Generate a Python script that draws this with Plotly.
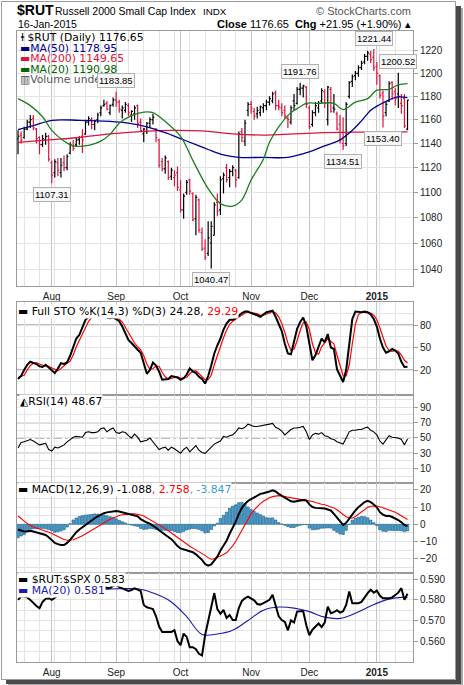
import math
import pandas as pd
import plotly.graph_objects as go

# ---------------- data ----------------
HOLIDAYS = ["2014-09-01", "2014-11-27", "2014-12-25", "2015-01-01"]
dates = [d for d in pd.bdate_range("2014-07-17", "2015-01-16")
         if d.strftime("%Y-%m-%d") not in HOLIDAYS]

opens = [1144, 1147, 1145, 1152, 1158, 1161, 1152, 1145, 1139, 1143, 1146,
         1124, 1116, 1124, 1116, 1124, 1120, 1132, 1138, 1139, 1143, 1146, 1148, 1158, 1160, 1156, 1160, 1166, 1172, 1174, 1166, 1173,
         1177, 1175, 1168, 1168, 1172, 1164, 1165, 1172, 1158, 1148, 1150, 1157, 1160, 1152, 1143, 1125, 1119, 1125, 1113, 1112, 1116,
         1102, 1086, 1100, 1110, 1099, 1079, 1094, 1068, 1056, 1052, 1060, 1066, 1092, 1086, 1111, 1120, 1112, 1117, 1118, 1112, 1150, 1142, 1168,
         1173, 1167, 1165, 1166, 1170, 1172, 1175, 1176, 1183, 1172, 1170, 1168, 1161, 1158, 1176, 1174, 1186, 1187, 1188,
         1170, 1156, 1166, 1170, 1176, 1184, 1160, 1186, 1170, 1165, 1156, 1140, 1140, 1180, 1193, 1198, 1200, 1205, 1210, 1215, 1217, 1214,
         1206, 1198, 1183, 1166, 1176, 1192, 1184, 1182, 1174, 1178, 1152]
highs = [1151, 1150, 1154, 1160, 1164, 1164, 1153, 1146, 1147, 1149, 1147,
         1126, 1127, 1128, 1128, 1130, 1131, 1141, 1143, 1145, 1146, 1152, 1160, 1163, 1162, 1160, 1166, 1172, 1177, 1176, 1173, 1179,
         1183.85, 1177, 1172, 1175, 1174, 1168, 1172, 1173, 1161, 1153, 1158, 1162, 1165, 1153, 1144, 1128, 1130, 1126, 1120, 1118, 1121,
         1110, 1099, 1110, 1111, 1100, 1098, 1095, 1072, 1063, 1077, 1077, 1092, 1099, 1113, 1116, 1123, 1119, 1122, 1119, 1150, 1153, 1160, 1175,
         1176, 1170, 1171, 1172, 1174, 1177, 1180, 1184, 1185, 1177, 1174, 1172, 1163, 1172, 1182, 1188, 1191.76, 1190, 1189,
         1172, 1168, 1175, 1176, 1187, 1186, 1189, 1188, 1182, 1167, 1164, 1162, 1175, 1193, 1199, 1202, 1207, 1211, 1217, 1220, 1220, 1221.44,
         1210, 1199, 1185, 1176, 1193, 1193, 1187, 1200.52, 1182, 1182, 1177]
lows = [1131, 1140, 1144, 1151, 1153, 1151, 1140, 1131, 1137, 1139, 1125,
        1107.31, 1112, 1113, 1112, 1117, 1118, 1131, 1134, 1137, 1139, 1132, 1147, 1155, 1152, 1151, 1157, 1163, 1171, 1168, 1164, 1171,
        1171, 1166, 1161, 1166, 1163, 1158, 1160, 1153, 1150, 1141, 1148, 1153, 1156, 1141, 1120, 1117, 1115, 1110, 1110, 1105, 1101,
        1084, 1079, 1098, 1098, 1077, 1066, 1068, 1054, 1047, 1050, 1040.47, 1066, 1081, 1082, 1099, 1108, 1104, 1113, 1104, 1111, 1141, 1138, 1163,
        1165, 1160, 1161, 1163, 1166, 1168, 1172, 1174, 1168, 1168, 1163, 1161, 1153, 1156, 1168, 1173, 1181, 1179, 1170,
        1152, 1154, 1163, 1166, 1174, 1170, 1155, 1166, 1166, 1151, 1140, 1134.51, 1138, 1178, 1188, 1194, 1197, 1203, 1208, 1211, 1209, 1202,
        1190, 1178, 1153.40, 1163, 1175, 1177, 1172, 1170, 1165, 1153, 1151]
closes = [1146, 1143, 1152, 1158, 1160, 1153, 1144, 1139, 1144, 1146, 1127,
          1114, 1125, 1118, 1122, 1120, 1129, 1139, 1136, 1143, 1145, 1143, 1158, 1161, 1156, 1159, 1164, 1170, 1173, 1169, 1172, 1177,
          1175, 1169, 1170, 1173, 1166, 1167, 1170, 1157, 1151, 1152, 1157, 1160, 1162, 1145, 1122, 1119, 1128, 1112, 1118, 1114, 1104,
          1086, 1097, 1108, 1101, 1078, 1096, 1070, 1055, 1049, 1064, 1073, 1090, 1085, 1110, 1114, 1110, 1117, 1120, 1110, 1148, 1145, 1157, 1173,
          1170, 1163, 1168, 1171, 1172, 1175, 1178, 1182, 1172, 1171, 1166, 1163, 1160, 1170, 1172, 1186, 1187, 1189, 1173,
          1154, 1166, 1172, 1174, 1185, 1174, 1188, 1167, 1169, 1152, 1143, 1138, 1173, 1192, 1197, 1200, 1205, 1209, 1215, 1218, 1212, 1204.7,
          1200, 1181, 1163, 1173, 1191, 1182, 1178, 1180, 1172, 1154.7, 1176.65]

ma50_dates = ["2014-07-17", "2014-07-24", "2014-08-01", "2014-08-14", "2014-08-28", "2014-09-08", "2014-09-16",
              "2014-09-24", "2014-10-01", "2014-10-08", "2014-10-14", "2014-10-21", "2014-10-28", "2014-11-07",
              "2014-11-19", "2014-12-01", "2014-12-08", "2014-12-15", "2014-12-19", "2014-12-24", "2014-12-30",
              "2015-01-05", "2015-01-08", "2015-01-13", "2015-01-16"]
ma50 = [1151.6, 1155, 1159.5, 1159.5, 1158.5, 1157, 1154, 1149, 1144, 1139, 1135, 1130.5, 1128.5, 1128.5,
        1128.5, 1133, 1138, 1143, 1151, 1159, 1168, 1173, 1177, 1179.5, 1178.95]

ma200_dates = ["2014-07-17", "2014-07-31", "2014-08-14", "2014-08-28", "2014-09-12", "2014-09-26", "2014-10-10",
               "2014-10-24", "2014-11-07", "2014-11-21", "2014-12-08", "2014-12-22", "2015-01-07", "2015-01-16"]
ma200 = [1141, 1143, 1145, 1148, 1150, 1151, 1150.5, 1148, 1147, 1148, 1149, 1149.5, 1149.5, 1149.65]

ma20_dates = ["2014-07-17", "2014-07-23", "2014-07-29", "2014-08-01", "2014-08-07", "2014-08-12", "2014-08-19",
              "2014-08-25", "2014-08-28", "2014-09-03", "2014-09-09", "2014-09-15", "2014-09-18", "2014-09-24",
              "2014-10-01", "2014-10-07", "2014-10-14", "2014-10-20", "2014-10-24", "2014-10-29", "2014-11-03",
              "2014-11-07", "2014-11-11", "2014-11-14", "2014-11-20", "2014-11-25", "2014-11-28", "2014-12-04",
              "2014-12-11", "2014-12-16", "2014-12-22", "2014-12-29", "2015-01-02", "2015-01-08", "2015-01-13",
              "2015-01-16"]
ma20 = [1178, 1172, 1162.5, 1151, 1142, 1138, 1138.5, 1142, 1147.6, 1157, 1163.5, 1166.5, 1166, 1158.5,
        1146, 1126, 1103, 1091, 1089, 1094, 1110, 1127, 1141, 1154, 1166, 1171, 1174, 1174,
        1174, 1168.5, 1175, 1178, 1185.3, 1186, 1190, 1190.98]

sto_k = [8, 12, 20, 27, 31, 30, 28, 25, 24, 27, 23,
         20, 16, 22, 29, 28, 30, 39, 52, 62, 67, 76, 87, 91, 93, 93, 92, 92, 95, 90, 89, 90,
         88, 85, 78, 69, 60, 56, 51, 47, 43, 27, 15, 20, 30, 26, 18, 7, 8, 8, 12, 11, 10,
         7, 9, 14, 22, 18, 16, 11, 8, 2, 12, 26, 42, 53, 62, 74, 82, 87, 87, 89, 93, 96, 98, 98,
         96, 95, 93, 91, 94, 97, 98, 99, 91, 82, 72, 55, 42, 41, 60, 75, 84, 90, 78,
         55, 33, 40, 50, 62, 57, 68, 50, 48, 21, 12, 4, 20, 58, 88, 98, 97, 97, 98, 97, 94, 88,
         78, 62, 50, 43, 45, 48, 46, 42, 31, 24, 24.28]
sto_d = [10, 11, 13, 20, 26, 29, 30, 28, 26, 25, 25,
         23, 20, 19, 22, 26, 29, 32, 40, 51, 60, 68, 77, 85, 90, 92, 93, 92, 93, 92, 91, 90,
         89, 88, 84, 77, 69, 62, 56, 51, 47, 39, 28, 21, 22, 25, 25, 17, 11, 8, 9, 10, 11,
         9, 9, 10, 15, 18, 19, 15, 12, 7, 7, 13, 27, 40, 52, 63, 73, 81, 85, 88, 90, 93, 96, 97,
         97, 96, 95, 93, 93, 94, 96, 98, 96, 91, 82, 70, 56, 46, 48, 59, 73, 83, 84,
         74, 55, 43, 41, 51, 56, 62, 58, 55, 40, 27, 12, 12, 27, 55, 81, 94, 97, 97, 97, 96, 93,
         87, 76, 63, 52, 46, 45, 46, 45, 40, 33, 29.29]

rsi = [37, 44, 45, 47, 48, 46, 44, 41, 42, 43, 35,
       33, 38, 37, 39, 41, 45, 48, 51, 52, 51, 51, 57, 58, 57, 57, 58, 62, 63, 58, 61, 63,
       57, 56, 58, 57, 53, 50, 55, 51, 45, 46, 47, 50, 45, 41, 35, 37, 38, 34, 38, 36, 33,
       30, 35, 38, 32, 36, 40, 34, 31, 30, 34, 38, 42, 44, 46, 52, 51, 53, 54, 58, 63, 62, 64, 68,
       66, 65, 65, 66, 67, 67, 68, 69, 64, 62, 59, 54, 58, 61, 63, 63, 64, 65, 58,
       48, 54, 56, 55, 57, 53, 52, 49, 48, 45, 43, 42, 50, 58, 60, 60, 61, 61, 63, 64, 60, 58,
       54, 46, 42, 47, 53, 51, 50, 50, 48, 41, 48.67]

macd = [-3.0, -3.8, -4.2, -4.0, -3.7, -4.2, -4.8, -5.2, -5.6, -6.2, -7.5,
        -9.0, -10.8, -11.5, -12.0, -12.0, -10.8, -9.0, -6.5, -4.6, -3.0, -1.6, -0.3, 1.0, 2.2, 3.5, 4.6, 5.6, 6.4, 6.9, 7.3, 7.6,
        7.7, 7.4, 7.0, 6.6, 6.0, 5.5, 5.1, 4.6, 3.0, 1.8, 1.0, 0.4, -0.6, -2.0, -3.5, -4.8, -6.0, -7.3, -8.6, -10.5, -12.6,
        -14.0, -14.5, -14.8, -15.5, -16.2, -17.4, -18.8, -20.6, -23.0, -24.0, -23.2, -21.0, -18.7, -15.2, -12.3, -9.5, -5.5,
        -2.0, 1.5, 6.0, 9.5, 11.8, 13.5,
        14.5, 15.7, 16.8, 17.6, 18.0, 18.3, 19.0, 19.7, 19.0, 17.6, 16.6, 15.4, 14.2, 13.3, 13.0, 13.5, 13.8, 14.0, 13.8,
        11.5, 10.0, 9.5, 9.2, 9.3, 9.1, 8.7, 8.0, 6.0, 3.8, 1.4, -0.4, 0.9, 3.5, 6.0, 8.0, 9.9, 11.5, 12.9, 13.6, 12.8, 11.5,
        9.8, 7.0, 5.6, 4.8, 4.9, 4.2, 3.4, 2.4, 1.2, -0.4, -1.088]
macd_signal = [4.8, 3.0, 1.8, 0.4, -0.8, -1.6, -2.2, -2.8, -3.2, -3.6, -4.4,
               -5.2, -6.2, -7.2, -8.1, -8.8, -9.2, -9.3, -9.0, -8.2, -7.5, -6.6, -5.6, -4.5, -3.5, -2.5, -1.3, -0.2, 1.0, 2.0, 2.9, 3.7,
               4.5, 5.1, 5.5, 5.8, 6.0, 6.0, 6.0, 5.8, 5.4, 4.8, 3.8, 2.8, 2.0, 1.0, -0.2, -1.3, -2.5, -3.7, -5.0, -6.3, -7.8,
               -9.2, -10.4, -11.5, -12.7, -13.8, -14.8, -15.8, -16.8, -18.0, -19.3, -20.2, -20.0, -19.3, -18.6, -17.5, -16.5, -14.8,
               -12.5, -9.8, -6.5, -3.2, 0.2, 3.5,
               6.0, 8.3, 10.3, 12.0, 13.3, 14.5, 15.4, 16.0, 16.5, 16.6, 16.4, 16.0, 15.6, 15.2, 14.9, 14.6, 14.4, 14.2, 14.0,
               13.7, 13.2, 12.6, 12.0, 11.6, 11.3, 10.8, 10.2, 9.5, 8.4, 7.0, 5.5, 4.4, 3.6, 3.6, 4.5, 5.8, 7.0, 8.5, 9.8, 10.4, 10.6,
               10.6, 10.2, 9.6, 9.0, 8.4, 7.8, 7.0, 6.0, 5.0, 3.9, 2.758]
macd_hist = [-7.8, -6.8, -6.0, -4.4, -2.9, -2.6, -2.6, -2.4, -2.4, -2.6, -3.1,
             -3.8, -4.6, -4.3, -3.9, -3.2, -1.6, 0.3, 2.5, 3.6, 4.5, 5.0, 5.3, 5.5, 5.7, 6.0, 5.9, 5.8, 5.4, 4.9, 4.4, 3.9,
             3.2, 2.3, 1.5, 0.8, 0.0, -0.5, -0.9, -1.2, -2.4, -3.0, -2.8, -2.4, -2.6, -3.0, -3.3, -3.5, -3.5, -3.6, -3.6, -4.2, -4.8,
             -4.8, -4.1, -3.3, -2.8, -2.4, -2.6, -3.0, -3.8, -5.0, -4.7, -3.0, -1.0, 0.6, 3.4, 5.2, 7.0, 9.3, 10.5, 11.3, 12.5, 12.7, 11.6, 10.0,
             8.5, 7.4, 6.5, 5.6, 4.7, 3.8, 3.6, 3.7, 2.5, 1.0, 0.2, -0.6, -1.4, -1.9, -1.9, -1.1, -0.6, -0.2, -0.2,
             -2.2, -3.2, -3.1, -2.8, -2.3, -2.2, -2.1, -2.2, -3.5, -4.6, -5.6, -5.9, -3.5, -0.1, 2.4, 3.5, 4.1, 4.5, 4.4, 3.8, 2.4, 0.9,
             -0.8, -3.2, -4.0, -4.2, -3.5, -3.6, -3.6, -3.6, -3.8, -4.3, -3.847]

ratio = [0.5800, 0.5816, 0.5816, 0.5812, 0.5800, 0.5784, 0.5770, 0.5759, 0.5790, 0.5805, 0.5808,
         0.5800, 0.5810, 0.5825, 0.5835, 0.5845, 0.5840, 0.5850, 0.5845, 0.5852, 0.5848, 0.5845, 0.5850, 0.5845, 0.5841,
         0.5838, 0.5844, 0.5856, 0.5866, 0.5858, 0.5858, 0.5868,
         0.5874, 0.5862, 0.5855, 0.5851, 0.5843, 0.5848, 0.5856, 0.5850, 0.5843, 0.5775, 0.5764, 0.5760, 0.5755, 0.5720,
         0.5670, 0.5644, 0.5644, 0.5645, 0.5644, 0.5652, 0.5600,
         0.5580, 0.5636, 0.5620, 0.5570, 0.5570, 0.5560, 0.5538, 0.5530, 0.5628, 0.5700, 0.5760, 0.5833, 0.5755, 0.5732,
         0.5751, 0.5712, 0.5726, 0.5702, 0.5702, 0.5760, 0.5795, 0.5808, 0.5816,
         0.5808, 0.5798, 0.5780, 0.5777, 0.5784, 0.5792, 0.5800, 0.5825, 0.5775, 0.5720, 0.5702, 0.5693, 0.5652, 0.5700,
         0.5690, 0.5743, 0.5745, 0.5745, 0.5677,
         0.5628, 0.5655, 0.5670, 0.5685, 0.5668, 0.5690, 0.5767, 0.5735, 0.5740, 0.5750, 0.5738, 0.5745, 0.5775, 0.5841,
         0.5784, 0.5784, 0.5784, 0.5790, 0.5815, 0.5833, 0.5849, 0.5835,
         0.5845, 0.5820, 0.5808, 0.5808, 0.5808, 0.5812, 0.5825, 0.5835, 0.5857, 0.5800, 0.5830]
ratio_ma_dates = ["2014-07-17", "2014-07-24", "2014-07-31", "2014-08-07", "2014-08-14", "2014-08-21", "2014-08-28",
                  "2014-09-05", "2014-09-12", "2014-09-19", "2014-09-26", "2014-10-03", "2014-10-10", "2014-10-17",
                  "2014-10-24", "2014-10-31", "2014-11-07", "2014-11-14", "2014-11-21", "2014-12-01", "2014-12-08",
                  "2014-12-15", "2014-12-22", "2014-12-30", "2015-01-07", "2015-01-14", "2015-01-16"]
ratio_ma = [0.5850, 0.5846, 0.5840, 0.5838, 0.5840, 0.5845, 0.5853, 0.5855, 0.5852, 0.5828, 0.5790, 0.5718, 0.5632,
            0.5634, 0.5652, 0.5700, 0.5750, 0.5765, 0.5760, 0.5743, 0.5716, 0.5710, 0.5735, 0.5770, 0.5800, 0.5812, 0.5810]

month_ticks = ["2014-08-01", "2014-09-02", "2014-10-01", "2014-11-03", "2014-12-01", "2015-01-02"]
month_labels = ["Aug", "Sep", "Oct", "Nov", "Dec", "<b>2015</b>"]

peak_labels = [("2014-09-02", 1183.85, 1), ("2014-08-01", 1107.31, -1), ("2014-10-15", 1040.47, -1),
               ("2014-11-25", 1191.76, 1), ("2014-12-31", 1221.44, 1), ("2015-01-13", 1200.52, 1),
               ("2014-12-16", 1134.51, -1), ("2015-01-06", 1153.40, -1)]

# ---------------- layout helpers ----------------
W, H = 464, 685
def px(x):
    return x / W
def py(y):
    return 1 - y / H

X0, X1 = px(17), px(413)
panels = {  # pixel top, bottom
    "y": (31, 286), "y2": (302, 395), "y3": (395, 483), "y4": (483, 573), "y5": (573, 662)}

RED = "#dc143c"
GRID = "#e3e3e3"
MGRID = "#c4c4c4"
AXC = "#9a9a9a"
TICKF = dict(family="Liberation Sans", size=10, color="#222")
LEGF = "DejaVu Sans"
LEGS = 10.8

rb = [dict(bounds=["sat", "mon"]), dict(values=HOLIDAYS)]
mondays = [d.strftime("%Y-%m-%d") for d in pd.date_range("2014-07-21", "2015-01-12", freq="W-MON")
           if d.strftime("%Y-%m-%d") not in HOLIDAYS]
xrange_ = ["2014-07-16 16:00", "2015-01-19 19:00"]

fig = go.Figure()

# price bars, coloured by close vs previous close
up_i = [i for i in range(len(closes)) if i == 0 or closes[i] >= closes[i - 1]]
dn_i = [i for i in range(len(closes)) if i > 0 and closes[i] < closes[i - 1]]
for idx, col in ((up_i, "#000000"), (dn_i, RED)):
    fig.add_trace(go.Ohlc(
        x=[dates[i] for i in idx], open=[opens[i] for i in idx], high=[highs[i] for i in idx],
        low=[lows[i] for i in idx], close=[closes[i] for i in idx],
        increasing=dict(line=dict(color=col, width=1.2)), decreasing=dict(line=dict(color=col, width=1.2)),
        tickwidth=0.45, xaxis="x", yaxis="y", showlegend=False, hoverinfo="skip"))

fig.add_trace(go.Scatter(x=ma200_dates, y=ma200, mode="lines", line=dict(color=RED, width=1.3, shape="spline"),
                         xaxis="x", yaxis="y", hoverinfo="skip"))
fig.add_trace(go.Scatter(x=ma50_dates, y=ma50, mode="lines", line=dict(color="#000090", width=1.3, shape="spline"),
                         xaxis="x", yaxis="y", hoverinfo="skip"))
fig.add_trace(go.Scatter(x=ma20_dates, y=ma20, mode="lines", line=dict(color="#1e7d1e", width=1.3, shape="spline"),
                         xaxis="x", yaxis="y", hoverinfo="skip"))

# stochastics
fig.add_trace(go.Scatter(x=dates, y=sto_d, mode="lines", line=dict(color="#ff0000", width=1.2),
                         xaxis="x2", yaxis="y2", hoverinfo="skip"))
fig.add_trace(go.Scatter(x=dates, y=sto_k, mode="lines", line=dict(color="#000000", width=2),
                         xaxis="x2", yaxis="y2", hoverinfo="skip"))
# RSI
fig.add_trace(go.Scatter(x=dates, y=rsi, mode="lines", line=dict(color="#000000", width=1.1),
                         xaxis="x3", yaxis="y3", hoverinfo="skip"))
# MACD
fig.add_trace(go.Bar(x=dates, y=macd_hist, marker=dict(color="#4aa0cf", line=dict(color="#1c5d86", width=0.6)),
                     width=86400000 * 0.8, xaxis="x4", yaxis="y4", hoverinfo="skip"))
fig.add_trace(go.Scatter(x=dates, y=macd_signal, mode="lines", line=dict(color="#ff0000", width=1.1),
                         xaxis="x4", yaxis="y4", hoverinfo="skip"))
fig.add_trace(go.Scatter(x=dates, y=macd, mode="lines", line=dict(color="#000000", width=2),
                         xaxis="x4", yaxis="y4", hoverinfo="skip"))
# ratio
fig.add_trace(go.Scatter(x=ratio_ma_dates, y=ratio_ma, mode="lines", line=dict(color="#1a1ab0", width=1.1, shape="spline"),
                         xaxis="x5", yaxis="y5", hoverinfo="skip"))
fig.add_trace(go.Scatter(x=dates, y=ratio, mode="lines", line=dict(color="#000000", width=2),
                         xaxis="x5", yaxis="y5", hoverinfo="skip"))

def xax(anchor, labels):
    return dict(domain=[X0, X1], anchor=anchor, type="date", range=xrange_, rangebreaks=rb,
                rangeslider=dict(visible=False),
                tickmode="array", tickvals=month_ticks, ticktext=month_labels, showticklabels=labels,
                ticks="", showgrid=True, gridcolor=MGRID, gridwidth=1,
                minor=dict(tickmode="array", tickvals=mondays, showgrid=True, gridcolor=GRID, ticks=""),
                showline=True, mirror=True, linecolor=AXC, linewidth=1, zeroline=False,
                tickfont=dict(family="Liberation Sans", size=10, color="#222"), ticklabelstandoff=1,
                fixedrange=True)

def yax(key, rng, tickvals, ticktext=None, minorvals=None, typ="linear"):
    top, bot = panels[key]
    d = dict(domain=[py(bot), py(top)], anchor="x" if key == "y" else "x" + key[1:], side="right",
             type=typ, range=rng, tickmode="array", tickvals=tickvals, showgrid=True, gridcolor=GRID,
             ticks="outside", ticklen=4, tickcolor=AXC, showline=True, mirror=True, linecolor=AXC,
             zeroline=False, tickfont=TICKF, fixedrange=True)
    if ticktext is not None:
        d["ticktext"] = ticktext
    if minorvals is not None:
        d["minor"] = dict(tickmode="array", tickvals=minorvals, showgrid=True, gridcolor=GRID, ticks="")
    return d

layout = dict(
    width=W, height=H, margin=dict(l=0, r=0, t=0, b=0), autosize=False,
    paper_bgcolor="white", plot_bgcolor="white", showlegend=False, bargap=0,
    xaxis=xax("y", True), xaxis2=xax("y2", False), xaxis3=xax("y3", False),
    xaxis4=xax("y4", False), xaxis5=xax("y5", True),
    yaxis=yax("y", [math.log10(1027.2), math.log10(1237.7)], [1040, 1060, 1080, 1100, 1120, 1140, 1160, 1180, 1200, 1220],
              typ="log"),
    yaxis2=yax("y2", [-13.3, 110.7], [20, 50, 80], minorvals=[5, 35, 65, 95]),
    yaxis3=yax("y3", [-8.7, 106], [10, 30, 50, 70, 90], minorvals=[0, 20, 40, 60, 80, 100]),
    yaxis4=yax("y4", [-28.2, 23.9], [-20, -10, 0, 10, 20], minorvals=[-25, -15, -5, 5, 15]),
    yaxis5=yax("y5", [0.5498, 0.59306], [0.56, 0.57, 0.58, 0.59], ["0.560", "0.570", "0.580", "0.590"],
               minorvals=[0.555, 0.565, 0.575, 0.585]),
)
fig.update_layout(**layout)

# reference lines
shapes = []
for yref, val, dash in (("y2", 20, "solid"), ("y2", 80, "solid"), ("y2", 50, "dashdot"),
                        ("y3", 30, "solid"), ("y3", 70, "solid"), ("y3", 50, "dashdot")):
    shapes.append(dict(type="line", xref="paper", yref=yref, x0=X0, x1=X1, y0=val, y1=val,
                       line=dict(color="#7a7a7a", width=1.2, dash=dash), layer="below"))
# outer frame and shadow
shapes.append(dict(type="rect", xref="paper", yref="paper", x0=px(456), x1=px(461), y0=py(684), y1=py(6),
                   fillcolor="#4a4a4a", line=dict(width=0)))
shapes.append(dict(type="rect", xref="paper", yref="paper", x0=px(6), x1=px(461), y0=py(684), y1=py(680),
                   fillcolor="#4a4a4a", line=dict(width=0)))
shapes.append(dict(type="rect", xref="paper", yref="paper", x0=px(461), x1=px(463), y0=py(685), y1=py(8),
                   fillcolor="#a8a8a8", line=dict(width=0)))
shapes.append(dict(type="rect", xref="paper", yref="paper", x0=px(8), x1=px(463), y0=py(685), y1=py(684),
                   fillcolor="#a8a8a8", line=dict(width=0)))
shapes.append(dict(type="rect", xref="paper", yref="paper", x0=px(1.5), x1=px(455.5), y0=py(679.5), y1=py(1.5),
                   line=dict(color="#9a9a9a", width=1), fillcolor="rgba(0,0,0,0)"))
fig.update_layout(shapes=shapes)

ann = []
def txt(x, y, text, size=LEGS, family=LEGF, color="#000", anchor="left", bg=None):
    a = dict(xref="paper", yref="paper", x=px(x), y=py(y), text=text, showarrow=False,
             xanchor=anchor, yanchor="middle", font=dict(family=family, size=size, color=color))
    if bg:
        a["bgcolor"] = bg
        a["borderpad"] = 0
    ann.append(a)

# header
txt(15, 10, "<b>$RUT</b>", size=14, family="Liberation Sans")
txt(53, 11, "Russell 2000 Small Cap Index", size=10.5, family="Liberation Sans")
txt(201, 11, "INDX", size=9.8, family="Liberation Sans")
txt(413, 11, "© StockCharts.com", size=11, family="Liberation Sans", color="#555", anchor="right")
txt(16, 24, "16-Jan-2015", size=10.5, family="Liberation Sans")
txt(413, 24, "<b>Close</b> 1176.65  <b>Chg</b> +21.95 (+1.90%) ▴", size=11, family="Liberation Sans",
    anchor="right")

# price legend
txt(19, 37, "ⱡ $RUT (Daily) 1176.65")
txt(18, 48, "<b>▬</b>MA(50) 1178.95", color="#000090")
txt(18, 59, "<b>▬</b>MA(200) 1149.65", color=RED)
txt(18, 70, "<b>▬</b>MA(20) 1190.98", color="#006400")
txt(18, 80, "▥Volume undef", color="#555")
# other legends
txt(17, 311, "<b>▬</b> Full STO %K(14,3) %D(3) 24.28, <span style='color:#ff0000'>29.29</span>", bg="white")
txt(19, 401, "◭RSI(14) 48.67", bg="white")
txt(17, 489, "<b>▬</b> MACD(12,26,9) -1.088<span style='color:#ff0000'>, 2.758</span>"
             "<span style='color:#3a9bd0'>, -3.847</span>", bg="white")
txt(17, 579, "<b>▬</b> $RUT:$SPX 0.583", bg="white")
txt(17, 590, "<b>▬</b> MA(20) 0.581", color="#1a1ab0", bg="white")

# high / low call-outs
for d, v, side in peak_labels:
    ann.append(dict(xref="x", yref="y", x=d, y=math.log10(v), text=f"{v:.2f}", showarrow=False,
                    yshift=11 * side, xanchor="center", yanchor="middle",
                    font=dict(family="Liberation Sans", size=9.5, color="#000"),
                    bgcolor="#f7f7f7", bordercolor="#b0b0b0", borderwidth=1, borderpad=1))
fig.update_layout(annotations=ann)

fig.write_html("out.html", config={"displayModeBar": False, "staticPlot": True},
               post_script="document.body.style.margin='0';document.body.style.overflow='hidden';")
